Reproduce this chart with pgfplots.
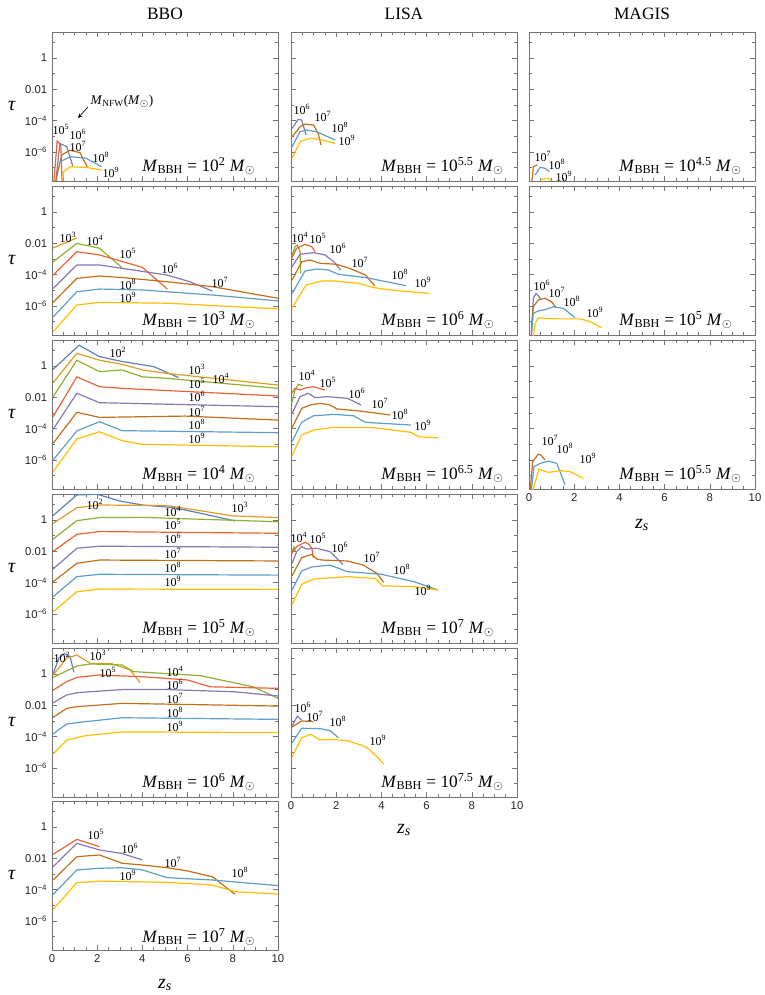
\documentclass[border=0pt]{standalone}
\usepackage{fontspec}
\setmainfont{Liberation Serif}
\newfontfamily\ticksf{Liberation Sans}
\usepackage{pgfplots}
\pgfplotsset{compat=1.18}

% Mathematica default palette
\definecolor{c2}{rgb}{0.368417,0.506779,0.709798}
\definecolor{c3}{rgb}{0.880722,0.611041,0.142051}
\definecolor{c4}{rgb}{0.560181,0.691569,0.194885}
\definecolor{c5}{rgb}{0.922526,0.385626,0.209179}
\definecolor{c6}{rgb}{0.528488,0.470624,0.701351}
\definecolor{c7}{rgb}{0.772079,0.431554,0.102387}
\definecolor{c8}{rgb}{0.363898,0.618501,0.782349}
\definecolor{c9}{rgb}{1,0.75,0}
\definecolor{framec}{gray}{0.45}

\newcommand{\tp}[1]{10\textsuperscript{#1}}
\newcommand{\MB}[1]{\textit{M}\textsubscript{BBH} = 10\textsuperscript{#1} \textit{M}\textsubscript{$\odot$}}

\pgfplotsset{
  pnl/.style={
    scale only axis, width=169.5pt, height=111.75pt, anchor=north west,
    xmin=0, xmax=10, ymin=1.41e-8, ymax=44.7,
    xtick={0,2,4,6,8,10}, minor xtick={0.5,1,...,9.5},
    ytick={1e-6,1e-4,1e-2,1}, minor ytick={1e-7,1e-5,1e-3,0.1,10},
    xticklabels={}, yticklabels={},
    axis line style={framec}, tick style={framec, line width=0.4pt},
    major tick length=3.5pt, minor tick length=2pt,
    ticklabel style={font=\ticksf\fontsize{8.5}{10}\selectfont, text=black!85},
    every axis plot/.append style={line width=0.9pt, mark=none},
  },
  leftcol/.style={yticklabels={10\textsuperscript{−6},10\textsuperscript{−4},0.01,1}},
  bottomrow/.style={xticklabels={0,2,4,6,8,10}},
}

\begin{document}
\begin{tikzpicture}
\useasboundingbox (0,0) rectangle (573pt,-746.25pt);

% ---------------- BBO ----------------
\begin{axis}[ymode=log, pnl, leftcol, at={(52*0.75pt,-32*0.75pt)}]
\addplot[c5] coordinates {(0.02,1e-9) (0.23,5e-6) (0.39,2.8e-6) (0.47,1e-9)};
\addplot[c6] coordinates {(0.08,1e-9) (0.35,3.5e-6) (0.65,2.2e-6) (0.92,1.26e-7)};
\addplot[c7] coordinates {(0.15,1e-9) (0.21,2.6e-8) (0.43,6.5e-7) (0.8,1.3e-6) (1.24,8.9e-7) (1.56,1.15e-7)};
\addplot[c8] coordinates {(0.35,2.4e-7) (0.82,5e-7) (1.5,4e-7) (2.2,1.15e-7)};
\addplot[c9] coordinates {(0.47,1e-9) (0.5,5.5e-8) (0.82,1.15e-7) (1.6,1e-7) (2.2,7e-8)};
\end{axis}

\begin{axis}[ymode=log, pnl, leftcol, at={(52*0.75pt,-186*0.75pt)}]
\addplot[c3] coordinates {(0.05,5e-3) (1.1,2.2e-2)};
\addplot[c4] coordinates {(0.05,6.6e-4) (1.1,9.8e-3) (2.1,4.8e-3) (3.1,2.75e-4)};
\addplot[c5] coordinates {(0.05,9.3e-5) (1.1,2.9e-3) (2.1,1.8e-3) (4.0,2.9e-4) (5.1,1.2e-5)};
\addplot[c6] coordinates {(0.05,1.3e-5) (1.1,4.1e-4) (2.1,4.1e-4) (3.1,2.5e-4) (5.1,9.3e-5) (6.1,3.5e-5) (7.1,8.9e-6)};
\addplot[c7] coordinates {(0.05,1.7e-6) (1.1,5.8e-5) (2.1,8.1e-5) (3.1,6.5e-5) (5.1,3.5e-5) (7.1,1.7e-5) (10,3.1e-6)};
\addplot[c8] coordinates {(0.05,2e-7) (1.1,8.1e-6) (2.1,1.2e-5) (4.0,1.05e-5) (7.1,5e-6) (10,2.1e-6)};
\addplot[c9] coordinates {(0.05,2.3e-8) (1.1,1.15e-6) (2.1,1.7e-6) (5.1,1.5e-6) (10,6.5e-7)};
\end{axis}

\begin{axis}[ymode=log, pnl, leftcol, at={(52*0.75pt,-340*0.75pt)}]
\addplot[c2] coordinates {(0.05,0.6) (1.2,21) (2.1,3.9) (3.1,1.9) (4.5,0.9) (5.6,0.18)};
\addplot[c3] coordinates {(0.05,0.085) (1.1,6.3) (2.1,2.3) (3.1,1.26) (4.0,0.55) (5.1,0.33) (7,0.17) (10,0.06)};
\addplot[c4] coordinates {(0.05,0.011) (1.1,2.3) (2.1,0.43) (3.1,0.55) (4.0,0.2) (5.1,0.16) (10,0.037)};
\addplot[c5] coordinates {(0.05,5.8e-4) (1.1,0.2) (2.1,0.047) (3.1,0.037) (10,0.012)};
\addplot[c6] coordinates {(0.05,9e-5) (1.1,0.018) (2.1,4.5e-3) (10,2.5e-3)};
\addplot[c7] coordinates {(0.05,1.15e-5) (1.1,1.1e-3) (2.1,5.2e-4) (5.9,6.3e-4) (10,3.5e-4)};
\addplot[c8] coordinates {(0.05,1e-6) (1.1,7.1e-5) (2.1,2.75e-4) (3.1,7.4e-5) (10,5.5e-5)};
\addplot[c9] coordinates {(0.05,1.8e-7) (1.1,2.2e-5) (2.1,6.3e-5) (3.1,1.7e-5) (4.0,1e-5) (10,7e-6)};
\end{axis}

\begin{axis}[ymode=log, pnl, leftcol, at={(52*0.75pt,-494*0.75pt)}]
\addplot[c2] coordinates {(0.05,1.9) (1.1,39) (2.0,43) (3.0,16) (4.0,8.9) (5.4,6) (6.6,2.6) (8.1,0.85)};
\addplot[c3] coordinates {(0.05,0.6) (1.1,6) (2.1,8.9) (5.1,8.1) (6.1,4.9) (8.0,1.8) (10,1.4)};
\addplot[c4] coordinates {(0.05,0.06) (1.1,0.89) (2.1,1.4) (4,1.45) (10,0.76)};
\addplot[c5] coordinates {(0.05,0.01) (1.1,0.12) (2.1,0.18) (10,0.14)};
\addplot[c6] coordinates {(0.05,7.4e-4) (1.1,0.0155) (2.1,0.021) (10,0.018)};
\addplot[c7] coordinates {(0.05,1.15e-4) (1.1,1.7e-3) (2.1,2.75e-3) (10,2.4e-3)};
\addplot[c8] coordinates {(0.05,1.26e-5) (1.1,2.4e-4) (2.1,3.4e-4) (10,3e-4)};
\addplot[c9] coordinates {(0.05,1.4e-6) (1.1,2.6e-5) (2.1,3.9e-5) (10,3.7e-5)};
\end{axis}

\begin{axis}[ymode=log, pnl, leftcol, at={(52*0.75pt,-648*0.75pt)}]
\addplot[c2] coordinates {(0.05,1) (0.3,10) (0.55,20) (0.8,12.6) (0.97,1.26)};
\addplot[c3] coordinates {(0.05,0.85) (0.65,10) (1.1,16) (1.7,4.7) (2.6,4.7) (3.45,1.8) (3.9,0.28)};
\addplot[c4] coordinates {(0.05,0.6) (1.1,3.2) (1.7,4.3) (3.1,3.7) (3.6,1.4) (6.55,0.78) (8.9,0.15) (10,0.028)};
\addplot[c5] coordinates {(0.05,0.093) (0.65,0.32) (1.1,0.6) (2.1,0.85) (4.0,0.66) (6.0,0.41) (7.0,0.15) (10,0.12)};
\addplot[c6] coordinates {(0.05,0.0145) (0.65,0.045) (1.1,0.063) (3.1,0.1) (5.1,0.1) (8.1,0.072) (10,0.039)};
\addplot[c7] coordinates {(0.05,1.7e-3) (0.65,6.3e-3) (1.1,8.1e-3) (3.1,0.0132) (10,8.9e-3)};
\addplot[c8] coordinates {(0.05,1.5e-4) (0.65,6.3e-4) (1.1,7.8e-4) (3.1,1.6e-3) (10,1.26e-3)};
\addplot[c9] coordinates {(0.05,7.8e-6) (0.65,6e-5) (1.4,1.1e-4) (3.1,2e-4) (10,1.8e-4)};
\end{axis}

\begin{axis}[ymode=log, pnl, leftcol, bottomrow, at={(52*0.75pt,-801*0.75pt)}]
\addplot[c5] coordinates {(0.05,0.018) (1.1,0.16) (2.1,0.055)};
\addplot[c6] coordinates {(0.05,2.9e-3) (1.1,0.089) (2.1,0.034) (3.1,0.02) (4.0,7.8e-3)};
\addplot[c7] coordinates {(0.05,4.1e-4) (1.1,0.0126) (2.1,0.0162) (3.1,4.8e-3) (4.0,3.7e-3) (5.1,2.5e-3) (6.0,1.55e-3) (7.1,6.6e-4) (8.1,5e-5)};
\addplot[c8] coordinates {(0.05,5e-5) (1.1,1.8e-3) (2.1,2.3e-3) (3.1,2.5e-3) (4.0,1.8e-3) (5.1,5.8e-4) (7.1,4.1e-4) (10,1.8e-4)};
\addplot[c9] coordinates {(0.05,5.5e-6) (1.1,2.75e-4) (2.1,3.5e-4) (5.1,2.9e-4) (7.1,1.95e-4) (8.1,7.4e-5) (10,5.2e-5)};
\end{axis}

% ---------------- LISA ----------------
\begin{axis}[ymode=log, pnl, at={(291*0.75pt,-32*0.75pt)}]
\addplot[c6] coordinates {(0.05,3.2e-5) (0.32,1.2e-4) (0.47,1.1e-4) (0.67,1.2e-5)};
\addplot[c7] coordinates {(0.05,9.3e-6) (0.4,4.1e-5) (0.62,6e-5) (1.0,5.2e-5) (1.2,1.55e-5) (1.33,2.75e-6)};
\addplot[c8] coordinates {(0.05,2.2e-6) (0.4,1.95e-5) (0.7,2.5e-5) (1.14,1.95e-5) (1.96,5.7e-6)};
\addplot[c9] coordinates {(0.05,3.9e-7) (0.4,4.6e-6) (0.84,7.4e-6) (1.29,6.3e-6) (1.96,3.5e-6)};
\end{axis}

\begin{axis}[ymode=log, pnl, at={(291*0.75pt,-186*0.75pt)}]
\addplot[c4] coordinates {(0.03,1.4e-3) (0.18,6e-3) (0.28,7.8e-3) (0.4,2.9e-3) (0.43,1.2e-4)};
\addplot[c5] coordinates {(0.03,1.1e-3) (0.25,4.8e-3) (0.62,8.5e-3) (0.92,6e-3) (1.07,2.9e-3)};
\addplot[c6] coordinates {(0.05,3.2e-4) (0.4,2e-3) (1.0,2.5e-3) (1.5,1.8e-3) (1.9,6.6e-4) (2.2,1.95e-4)};
\addplot[c7] coordinates {(0.05,4.5e-5) (0.47,6.6e-4) (0.84,8.5e-4) (1.3,5.2e-4) (2.0,4.6e-4) (2.6,2.5e-4) (3.3,9.3e-5) (3.7,1.95e-5)};
\addplot[c8] coordinates {(0.05,6.3e-6) (0.62,1.7e-4) (1.14,2.3e-4) (1.66,1.95e-4) (2.1,1.05e-4) (3.36,6.3e-5) (5.1,1.95e-5)};
\addplot[c9] coordinates {(0.05,7.8e-7) (0.67,2.2e-5) (1.36,3.9e-5) (1.96,3.9e-5) (3.0,2.75e-5) (3.66,1.5e-5) (4.4,1.05e-5) (6.1,6.3e-6)};
\end{axis}

\begin{axis}[ymode=log, pnl, at={(291*0.75pt,-340*0.75pt)}]
\addplot[c4] coordinates {(0.03,4.1e-3) (0.18,0.029) (0.32,0.066) (0.52,0.055)};
\addplot[c5] coordinates {(0.03,0.018) (0.18,0.037) (0.4,0.029) (0.7,0.041) (1.0,0.047) (1.5,0.029)};
\addplot[c6] coordinates {(0.05,9.3e-4) (0.4,0.011) (0.77,0.018) (1.07,9.3e-3) (1.6,0.011) (2.5,8.5e-3) (3.1,3.2e-3)};
\addplot[c7] coordinates {(0.05,1.15e-4) (0.47,1.95e-3) (0.84,3.2e-3) (1.3,4.1e-3) (1.73,3.2e-3) (2.03,1.8e-3) (3.07,1.3e-3) (4.4,7.4e-4)};
\addplot[c8] coordinates {(0.05,1.5e-5) (0.47,2.5e-4) (1.0,6.6e-4) (1.9,8.1e-4) (2.77,6.6e-4) (3.3,2.5e-4) (5.3,1.7e-4)};
\addplot[c9] coordinates {(0.05,1.9e-6) (0.47,3.9e-5) (1.0,8.1e-5) (1.9,1.2e-4) (3.66,1.15e-4) (5.3,5.8e-5) (5.66,3e-5) (6.5,2.6e-5)};
\end{axis}

\begin{axis}[ymode=log, pnl, at={(291*0.75pt,-494*0.75pt)}]
\addplot[c4] coordinates {(0.03,9.3e-3) (0.13,0.019) (0.18,0.01)};
\addplot[c5] coordinates {(0.03,7.4e-3) (0.25,0.0195) (0.62,0.037) (0.8,0.028) (0.92,0.0155) (0.99,3.9e-3)};
\addplot[c6] coordinates {(0.05,1.7e-3) (0.25,9.3e-3) (0.47,0.0195) (0.7,0.0138) (1.14,0.0155) (1.73,9.3e-3) (2.3,1.45e-3)};
\addplot[c7] coordinates {(0.05,2.75e-4) (0.47,3.9e-3) (0.92,6.3e-3) (1.14,3.2e-3) (1.36,2.75e-3) (2.5,2.4e-3) (3.2,1.3e-3) (3.8,3.9e-4) (4.1,1.05e-4)};
\addplot[c8] coordinates {(0.05,3.4e-5) (0.47,5.5e-4) (0.92,1e-3) (1.73,1.3e-3) (2.5,5e-4) (4.0,3.4e-4) (5.44,1.15e-4) (6.5,3.4e-5)};
\addplot[c9] coordinates {(0.05,4.1e-6) (0.47,7.8e-5) (1.0,1.7e-4) (2.5,2.4e-4) (3.73,1.86e-4) (4.03,6.3e-5) (5.44,5.5e-5) (6.5,3.4e-5)};
\end{axis}

\begin{axis}[ymode=log, pnl, bottomrow, at={(291*0.75pt,-648*0.75pt)}]
\addplot[c6] coordinates {(0.05,4.8e-4) (0.28,2e-3) (0.47,1.15e-3)};
\addplot[c7] coordinates {(0.05,4.1e-4) (0.47,1.0e-3) (0.99,8.9e-4)};
\addplot[c8] coordinates {(0.05,4.1e-5) (0.47,3.4e-4) (1.29,3.2e-4) (1.73,2.4e-4) (2.1,8.5e-5)};
\addplot[c9] coordinates {(0.05,5.2e-6) (0.47,8.5e-5) (0.88,1.4e-4) (1.29,6e-5) (1.73,6.8e-5) (2.5,5.5e-5) (3.3,2.3e-5) (3.73,6.8e-6) (4.1,1.8e-6)};
\end{axis}

% ---------------- MAGIS ----------------
\begin{axis}[ymode=log, pnl, at={(529*0.75pt,-32*0.75pt)}]
\addplot[c7] coordinates {(0.05,1e-9) (0.15,2.6e-8) (0.19,1.15e-7) (0.37,1.5e-7)};
\addplot[c8] coordinates {(0.27,3.4e-8) (0.49,1.05e-7) (0.71,9.1e-8) (0.9,5.5e-8)};
\addplot[c9] coordinates {(0.41,1e-8) (0.56,1.8e-8) (0.86,2.1e-8) (1.08,1e-8)};
\end{axis}

\begin{axis}[ymode=log, pnl, at={(529*0.75pt,-186*0.75pt)}]
\addplot[c6] coordinates {(0.1,1e-8) (0.15,2e-7) (0.19,3.1e-6) (0.31,6.3e-6) (0.46,3.9e-6) (0.52,2.4e-6)};
\addplot[c7] coordinates {(0.1,1e-8) (0.12,7e-8) (0.19,8.9e-7) (0.41,2.4e-6) (0.71,3.1e-6) (1.0,1.86e-6) (1.2,7.8e-7)};
\addplot[c8] coordinates {(0.12,2.3e-8) (0.19,3.4e-7) (0.41,4.8e-7) (0.64,5.5e-7) (1.08,8.9e-7) (1.52,7.1e-7) (2.04,1.8e-7)};
\addplot[c9] coordinates {(0.19,1e-8) (0.27,7.8e-8) (0.41,1.8e-7) (0.8,1.6e-7) (1.23,1.5e-7) (2.27,1.5e-7) (2.71,1e-7) (3.2,4.1e-8)};
\end{axis}

\begin{axis}[ymode=log, pnl, bottomrow, at={(529*0.75pt,-340*0.75pt)}]
\addplot[c7] coordinates {(0.05,1e-8) (0.16,7.8e-7) (0.41,2.3e-6) (0.52,2.1e-6) (0.71,1e-6)};
\addplot[c8] coordinates {(0.1,1e-8) (0.22,3.7e-7) (0.49,6e-7) (0.86,8.5e-7) (1.23,6e-7) (1.6,2.5e-8)};
\addplot[c9] coordinates {(0.16,1e-8) (0.44,2.6e-7) (0.86,1.6e-7) (1.38,2.1e-7) (1.82,1.8e-7) (2.41,6.8e-8)};
\end{axis}

% ---------------- text ----------------
\begin{scope}[x=0.75pt,y=-0.75pt, every node/.style={inner sep=0pt}]
\node[font=\fontsize{13}{15}\selectfont] at (165,14) {BBO};
\node[font=\fontsize{13}{15}\selectfont] at (404,14) {LISA};
\node[font=\fontsize{13}{15}\selectfont] at (642,14) {MAGIS};
\foreach \yy in {106,260,414,568,722,875}
  \node[font=\fontsize{15}{15}\selectfont] at (12,\yy) {\textit{τ}};
\node[font=\fontsize{15}{15}\selectfont] at (165,985) {\textit{z}\textsubscript{\textit{s}}};
\node[font=\fontsize{15}{15}\selectfont] at (404,830) {\textit{z}\textsubscript{\textit{s}}};
\node[font=\fontsize{15}{15}\selectfont] at (642,525) {\textit{z}\textsubscript{\textit{s}}};

\begin{scope}[every node/.append style={font=\fontsize{13}{15}\selectfont, anchor=west}]
\node at (142,166) {\MB{2}};
\node at (142,320) {\MB{3}};
\node at (142,474) {\MB{4}};
\node at (142,628) {\MB{5}};
\node at (142,782) {\MB{6}};
\node at (142,937) {\MB{7}};
\node at (381,166) {\MB{5.5}};
\node at (381,320) {\MB{6}};
\node at (381,474) {\MB{6.5}};
\node at (381,628) {\MB{7}};
\node at (381,782) {\MB{7.5}};
\node at (619,166) {\MB{4.5}};
\node at (619,320) {\MB{5}};
\node at (619,474) {\MB{5.5}};
\end{scope}

\node[font=\fontsize{10}{11}\selectfont] at (122,101) {\textit{M}\textsubscript{NFW}(\textit{M}\textsubscript{$\odot$})};
\draw[-stealth, line width=0.5pt] (88,107) -- (78,118);

\begin{scope}[every node/.append style={font=\fontsize{9}{10}\selectfont}]
% BBO
\node at (61,129) {\tp{5}}; \node at (78,134) {\tp{6}}; \node at (78,146) {\tp{7}};
\node at (101,157) {\tp{8}}; \node at (111,172) {\tp{9}};
\node at (68,237) {\tp{3}}; \node at (95,240) {\tp{4}}; \node at (128,253) {\tp{5}};
\node at (170,268) {\tp{6}}; \node at (220,282) {\tp{7}}; \node at (128,284) {\tp{8}}; \node at (128,297) {\tp{9}};
\node at (118,352) {\tp{2}}; \node at (197,369) {\tp{3}}; \node at (221,378) {\tp{4}};
\node at (197,383) {\tp{5}}; \node at (197,396) {\tp{6}}; \node at (197,411) {\tp{7}};
\node at (197,424) {\tp{8}}; \node at (197,438) {\tp{9}};
\node at (95,504) {\tp{2}}; \node at (240,507) {\tp{3}}; \node at (173,511) {\tp{4}};
\node at (173,524) {\tp{5}}; \node at (173,538) {\tp{6}}; \node at (173,553) {\tp{7}};
\node at (173,567) {\tp{8}}; \node at (173,581) {\tp{9}};
\node at (62,657) {\tp{2}}; \node at (98,655) {\tp{3}}; \node at (108,672) {\tp{5}};
\node at (175,671) {\tp{4}}; \node at (175,684) {\tp{6}}; \node at (175,698) {\tp{7}};
\node at (175,712) {\tp{8}}; \node at (175,726) {\tp{9}};
\node at (96,834) {\tp{5}}; \node at (130,848) {\tp{6}}; \node at (173,862) {\tp{7}};
\node at (240,872) {\tp{8}}; \node at (128,875) {\tp{9}};
% LISA
\node at (302,109) {\tp{6}}; \node at (323,116) {\tp{7}}; \node at (340,127) {\tp{8}}; \node at (347,140) {\tp{9}};
\node at (300,237) {\tp{4}}; \node at (318,238) {\tp{5}}; \node at (338,248) {\tp{6}};
\node at (360,262) {\tp{7}}; \node at (400,274) {\tp{8}}; \node at (423,282) {\tp{9}};
\node at (307,375) {\tp{4}}; \node at (328,382) {\tp{5}}; \node at (357,393) {\tp{6}};
\node at (380,403) {\tp{7}}; \node at (400,414) {\tp{8}}; \node at (423,425) {\tp{9}};
\node at (299,537) {\tp{4}}; \node at (318,538) {\tp{5}}; \node at (340,547) {\tp{6}};
\node at (372,557) {\tp{7}}; \node at (402,569) {\tp{8}}; \node at (423,590) {\tp{9}};
\node at (303,707) {\tp{6}}; \node at (315,716) {\tp{7}}; \node at (338,721) {\tp{8}}; \node at (378,740) {\tp{9}};
% MAGIS
\node at (543,156) {\tp{7}}; \node at (557,164) {\tp{8}}; \node at (564,176) {\tp{9}};
\node at (542,285) {\tp{6}}; \node at (557,292) {\tp{7}}; \node at (572,301) {\tp{8}}; \node at (595,312) {\tp{9}};
\node at (550,440) {\tp{7}}; \node at (565,448) {\tp{8}}; \node at (588,458) {\tp{9}};
\end{scope}
\end{scope}
\end{tikzpicture}
\end{document}
